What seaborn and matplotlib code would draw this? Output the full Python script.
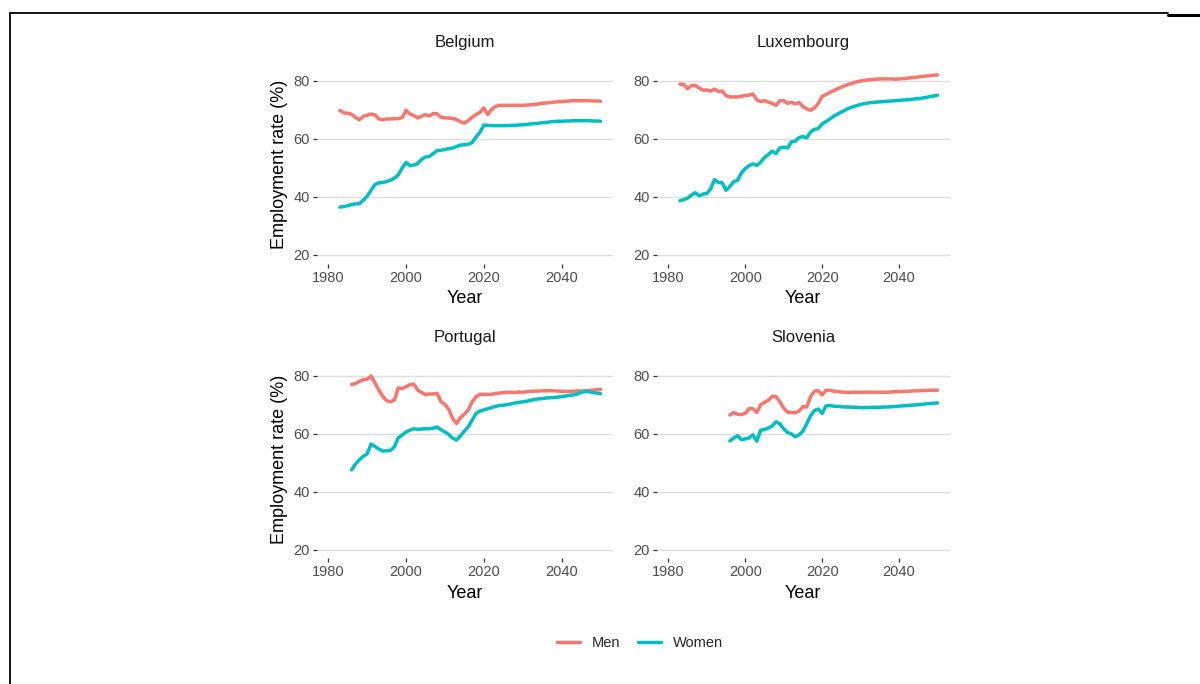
import matplotlib
matplotlib.use("Agg")
import matplotlib.pyplot as plt
import pandas as pd
import seaborn as sns
from matplotlib.lines import Line2D

sns.set_theme(style="white")
plt.rcParams['font.family'] = ['Liberation Sans', 'DejaVu Sans']

# employment rate (%) by sex, observed + projected to 2050
be_start = 1983
be_men = [69.8, 69.0, 68.9, 68.5, 67.4, 66.6, 67.8, 68.2, 68.6, 68.3,
          66.9, 66.6, 66.9, 66.9, 67.0, 67.0, 67.4, 69.9, 68.6, 68.1,
          67.2, 67.9, 68.4, 67.9, 68.8, 68.7, 67.4, 67.3, 67.2, 67.1,
          66.7, 65.9, 65.5, 66.3, 67.5, 68.4, 69.2, 70.7, 68.4, 70.3,
          71.2, 71.6, 71.6, 71.6, 71.6, 71.6, 71.6, 71.6, 71.7, 71.8,
          71.9, 72.1, 72.3, 72.4, 72.6, 72.7, 72.8, 72.9, 73.0, 73.1,
          73.2, 73.2, 73.2, 73.2, 73.2, 73.1, 73.1, 73.0]
be_women = [36.5, 36.7, 37.0, 37.4, 37.6, 37.7, 38.9, 40.3, 42.3, 44.3,
            44.9, 45.0, 45.3, 45.8, 46.5, 47.6, 50.0, 51.9, 50.8, 51.0,
            51.5, 53.0, 53.8, 54.0, 55.0, 56.0, 56.1, 56.4, 56.7, 56.9,
            57.4, 57.9, 58.0, 58.2, 58.8, 60.7, 62.3, 64.8, 64.7, 64.6,
            64.6, 64.6, 64.6, 64.6, 64.7, 64.7, 64.8, 64.9, 65.0, 65.2,
            65.3, 65.4, 65.6, 65.7, 65.9, 66.0, 66.1, 66.1, 66.2, 66.2,
            66.3, 66.3, 66.3, 66.3, 66.3, 66.2, 66.2, 66.1]

lu_start = 1983
lu_men = [78.9, 78.8, 77.3, 78.4, 78.5, 77.6, 76.8, 76.9, 76.5, 77.2,
          76.4, 76.5, 74.9, 74.5, 74.5, 74.5, 74.7, 75.0, 75.1, 75.5,
          73.5, 72.9, 73.2, 72.7, 72.3, 71.6, 73.2, 73.2, 72.3, 72.6,
          72.1, 72.6, 71.2, 70.4, 69.9, 70.7, 72.3, 74.7, 75.3, 76.0,
          76.7, 77.3, 77.9, 78.4, 78.9, 79.3, 79.7, 80.0, 80.2, 80.4,
          80.5, 80.6, 80.7, 80.7, 80.7, 80.7, 80.6, 80.7, 80.8, 80.9,
          81.1, 81.2, 81.4, 81.5, 81.7, 81.8, 82.0, 82.1]
lu_women = [38.7, 39.1, 39.6, 40.6, 41.5, 40.4, 41.0, 41.2, 42.8, 46.0,
            45.0, 44.9, 42.3, 43.6, 45.3, 45.7, 48.3, 49.8, 50.8, 51.4,
            50.9, 52.0, 53.6, 54.6, 55.8, 55.0, 56.9, 57.2, 56.9, 59.0,
            59.2, 60.5, 60.8, 60.4, 62.4, 63.3, 63.6, 65.2, 66.0, 66.9,
            67.8, 68.6, 69.3, 70.0, 70.6, 71.1, 71.5, 71.9, 72.2, 72.4,
            72.6, 72.7, 72.8, 72.9, 73.0, 73.1, 73.2, 73.3, 73.4, 73.5,
            73.6, 73.8, 73.9, 74.1, 74.3, 74.6, 74.8, 75.1]

pt_start = 1986
pt_men = [77.0, 77.3, 78.0, 78.7, 78.8, 79.9, 77.6, 75.0, 72.9, 71.4,
          71.0, 71.6, 75.8, 75.6, 76.2, 76.9, 77.1, 75.0, 74.2, 73.5,
          73.7, 73.7, 73.9, 71.0, 70.1, 68.3, 65.2, 63.5, 65.6, 66.7,
          68.3, 71.0, 72.7, 73.6, 73.6, 73.5, 73.6, 73.9, 74.0, 74.2,
          74.3, 74.3, 74.2, 74.4, 74.3, 74.5, 74.6, 74.7, 74.7, 74.8,
          74.8, 74.9, 74.8, 74.7, 74.6, 74.6, 74.6, 74.6, 74.8, 74.7,
          74.8, 74.9, 75.0, 75.2, 75.3]
pt_women = [47.5, 49.5, 51.0, 52.2, 53.0, 56.4, 55.6, 54.7, 54.0, 54.1,
            54.2, 55.5, 58.6, 59.5, 60.6, 61.2, 61.7, 61.5, 61.6, 61.7,
            61.7, 61.9, 62.3, 61.3, 60.6, 59.7, 58.4, 57.8, 59.3, 60.9,
            62.4, 64.7, 67.0, 67.8, 68.2, 68.6, 69.0, 69.4, 69.7, 69.8,
            70.0, 70.3, 70.6, 70.8, 71.0, 71.2, 71.5, 71.8, 72.0, 72.1,
            72.3, 72.4, 72.5, 72.6, 72.8, 73.0, 73.2, 73.4, 73.7, 74.2,
            74.6, 74.5, 74.2, 74.0, 73.8]

si_start = 1996
si_men = [66.4, 67.3, 66.7, 66.6, 67.0, 68.7, 68.6, 67.3, 70.0, 70.8,
          71.5, 72.9, 72.8, 71.0, 68.8, 67.4, 67.3, 67.2, 67.8, 69.3,
          69.2, 72.8, 74.7, 74.8, 73.4, 75.0, 75.0, 74.7, 74.5, 74.4,
          74.3, 74.2, 74.3, 74.3, 74.3, 74.3, 74.3, 74.3, 74.3, 74.3,
          74.3, 74.3, 74.4, 74.5, 74.5, 74.6, 74.6, 74.7, 74.8, 74.8,
          74.9, 74.9, 75.0, 75.0, 75.0]
si_women = [57.5, 58.5, 59.3, 57.9, 58.2, 58.5, 59.6, 57.4, 61.2, 61.4,
            62.0, 62.6, 64.1, 63.4, 61.7, 60.4, 59.9, 58.9, 59.6, 60.9,
            63.4, 66.2, 68.0, 68.5, 67.0, 69.6, 69.7, 69.5, 69.4, 69.3,
            69.2, 69.2, 69.1, 69.1, 69.0, 69.0, 69.0, 69.1, 69.1, 69.1,
            69.2, 69.2, 69.3, 69.4, 69.5, 69.6, 69.7, 69.8, 69.9, 70.0,
            70.1, 70.3, 70.4, 70.5, 70.6]

countries = ["Belgium", "Luxembourg", "Portugal", "Slovenia"]
series = {
    "Belgium": (be_start, be_men, be_women),
    "Luxembourg": (lu_start, lu_men, lu_women),
    "Portugal": (pt_start, pt_men, pt_women),
    "Slovenia": (si_start, si_men, si_women),
}

rows = []
for c in countries:
    start, men, women = series[c]
    for i, (m, w) in enumerate(zip(men, women)):
        rows.append((c, start + i, "Men", m))
        rows.append((c, start + i, "Women", w))
df = pd.DataFrame(rows, columns=["country", "Year", "sex", "rate"])

palette = {"Men": "#F8766D", "Women": "#00BFC4"}

fig = plt.figure(figsize=(12, 6.84), dpi=100, facecolor="white")

W, H = 1200, 684
boxes = {
    "Belgium": (316.6, 65, 613.0, 263.7),
    "Luxembourg": (656.8, 65, 949.8, 263.7),
    "Portugal": (316.6, 359.8, 613.0, 558.2),
    "Slovenia": (656.8, 359.8, 949.8, 558.2),
}

for c in countries:
    x0, y0, x1, y1 = boxes[c]
    ax = fig.add_axes([x0 / W, (H - y1) / H, (x1 - x0) / W, (y1 - y0) / H])
    sub = df[df.country == c]
    sns.lineplot(data=sub, x="Year", y="rate", hue="sex", palette=palette,
                 linewidth=2.5, legend=False, ax=ax)
    ax.set_xlim(1977, 2053.2)
    ax.set_ylim(17, 85.5)
    ax.set_xticks([1980, 2000, 2020, 2040])
    ax.set_yticks([20, 40, 60, 80])
    for s in ax.spines.values():
        s.set_visible(False)
    ax.grid(False)
    ax.yaxis.grid(True, color="#DEDEDE", linewidth=1.0)
    ax.set_axisbelow(True)
    ax.tick_params(axis="both", which="major", length=3, width=0.9,
                   color="#333333", labelcolor="#4D4D4D", labelsize=10.5,
                   pad=2, bottom=True, left=True)
    ax.set_title(c, fontsize=12, color="#1A1A1A", pad=13)
    ax.set_xlabel("Year", fontsize=13, color="black", labelpad=4)
    if c in ("Belgium", "Portugal"):
        ax.set_ylabel("Employment rate (%)", fontsize=13, color="black",
                      labelpad=4)
    else:
        ax.set_ylabel("")

handles = [Line2D([0], [0], color=palette[k], lw=2.5) for k in ["Men", "Women"]]
fig.legend(handles, ["Men", "Women"], loc="center",
           bbox_to_anchor=(640 / W, (H - 643) / H), ncol=2, frameon=False,
           fontsize=10.5, handlelength=1.6, handletextpad=0.8,
           columnspacing=1.2)

# frame of the original figure box
fig.add_artist(Line2D([10 / W, 1168 / W], [1 - 13 / H] * 2, color="black", lw=1.3))
fig.add_artist(Line2D([1168 / W, 1.0], [1 - 14.5 / H] * 2, color="black", lw=2.2))
fig.add_artist(Line2D([10 / W, 10 / W], [0, 1 - 13 / H], color="black", lw=1.3))

fig.savefig("out.png", dpi=100, facecolor="white")
